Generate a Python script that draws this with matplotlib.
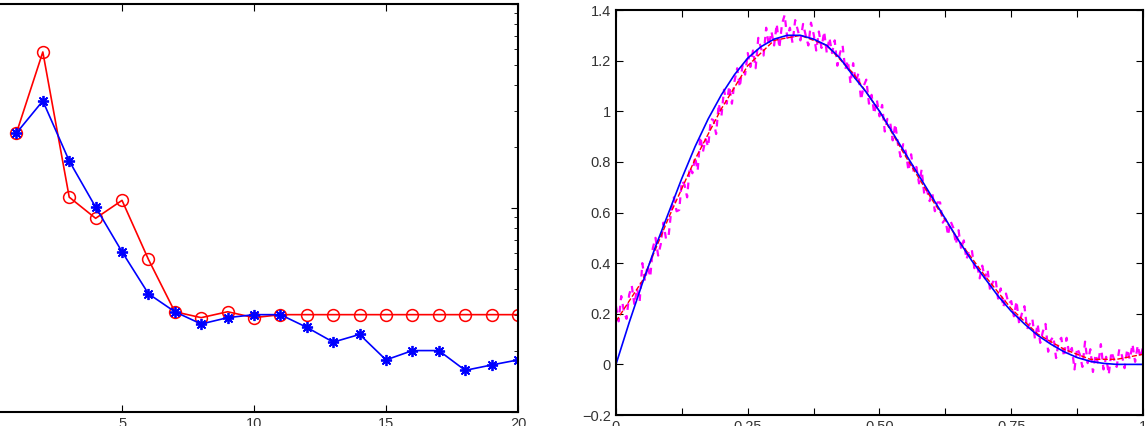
import matplotlib.pyplot as plt
import numpy as np

plt.rcParams['font.family'] = ['Liberation Sans', 'DejaVu Sans']

# left panel: error per iteration (log scale)
iters = list(range(1, 21))
err_red = [0.233, 0.582, 0.113, 0.089, 0.109, 0.056, 0.031, 0.029, 0.031, 0.029,
           0.030, 0.030, 0.030, 0.030, 0.030, 0.030, 0.030, 0.030, 0.030, 0.030]
err_blue = [0.233, 0.335, 0.170, 0.101, 0.061, 0.038, 0.031, 0.027, 0.029, 0.030,
            0.030, 0.026, 0.022, 0.024, 0.018, 0.020, 0.020, 0.016, 0.017, 0.018]

# right panel: true curve
x_true = [i / 40 for i in range(41)]
y_true = [0.00, 0.165, 0.32, 0.465, 0.60, 0.735, 0.86, 0.97, 1.065, 1.145,
          1.21, 1.255, 1.285, 1.30, 1.30, 1.285, 1.26, 1.21, 1.14, 1.075,
          1.00, 0.915, 0.83, 0.745, 0.66, 0.575, 0.49, 0.41, 0.34, 0.27,
          0.21, 0.16, 0.115, 0.08, 0.05, 0.027, 0.012, 0.004, 0.0, 0.0,
          0.0]

# fitted curve
x_fit = [i / 20 for i in range(21)]
y_fit = [0.17, 0.33, 0.58, 0.81, 1.01, 1.18, 1.28, 1.30, 1.26, 1.15, 1.00,
         0.82, 0.65, 0.49, 0.35, 0.22, 0.12, 0.06, 0.02, 0.02, 0.04]

# noisy samples
x_noisy = [i / 200 for i in range(201)]
y_noisy = [0.23, 0.17, 0.27, 0.21, 0.18, 0.275, 0.31, 0.235, 0.30, 0.25,
           0.40, 0.33, 0.39, 0.345, 0.46, 0.50, 0.43, 0.475, 0.56, 0.495,
           0.51, 0.61, 0.66, 0.605, 0.61, 0.725, 0.71, 0.66, 0.78, 0.755,
           0.82, 0.765, 0.90, 0.84, 0.89, 0.86, 0.97, 0.965, 0.91, 1.03,
           0.98, 1.085, 1.03, 1.10, 1.03, 1.12, 1.17, 1.095, 1.18, 1.145,
           1.23, 1.175, 1.24, 1.17, 1.29, 1.25, 1.22, 1.33, 1.26, 1.315,
           1.26, 1.345, 1.25, 1.345, 1.38, 1.29, 1.33, 1.27, 1.36, 1.32,
           1.28, 1.345, 1.30, 1.26, 1.35, 1.305, 1.24, 1.315, 1.25, 1.315,
           1.23, 1.29, 1.23, 1.28, 1.18, 1.23, 1.26, 1.165, 1.20, 1.11,
           1.19, 1.115, 1.15, 1.045, 1.10, 1.125, 1.03, 1.065, 0.99, 1.045,
           0.98, 1.025, 0.92, 0.97, 0.96, 0.885, 0.95, 0.87, 0.82, 0.87,
           0.84, 0.765, 0.83, 0.76, 0.78, 0.715, 0.77, 0.67, 0.69, 0.645,
           0.68, 0.605, 0.64, 0.64, 0.56, 0.575, 0.51, 0.565, 0.54, 0.475,
           0.53, 0.455, 0.49, 0.415, 0.45, 0.455, 0.38, 0.395, 0.34, 0.39,
           0.34, 0.375, 0.29, 0.325, 0.34, 0.26, 0.30, 0.225, 0.28, 0.24,
           0.25, 0.19, 0.25, 0.16, 0.20, 0.23, 0.14, 0.16, 0.18, 0.10,
           0.16, 0.085, 0.13, 0.16, 0.05, 0.095, 0.11, 0.025, 0.09, 0.105,
           0.03, 0.105, 0.04, 0.065, -0.02, 0.065, 0.04, -0.01, 0.09, 0.005,
           0.06, -0.03, 0.04, 0.00, 0.08, -0.02, 0.03, -0.04, 0.05, 0.02,
           -0.01, 0.06, 0.035, -0.015, 0.06, 0.02, 0.08, 0.01, 0.075, 0.025,
           0.07]

fig = plt.figure(figsize=(11.46, 4.26), dpi=100)

ax1 = fig.add_axes([-0.0087, 0.0329, 0.4607, 0.9577])
ax1.plot(iters, err_red, color="red", marker="o", markersize=8.5,
         markerfacecolor="none", markeredgewidth=1.1, linewidth=1.2)
ax1.plot(iters, err_blue, color="blue", marker=(8, 2, 0), markersize=8,
         markeredgewidth=1.3, linewidth=1.2)
ax1.set_yscale("log")
ax1.set_xlim(0, 20)
ax1.set_ylim(1e-2, 1)
ax1.set_xticks([5, 10, 15, 20])
ax1.set_xticklabels(["5", "10", "15", "20"])

ax2 = fig.add_axes([0.5375, 0.0258, 0.4599, 0.9507])
ax2.plot(x_noisy, y_noisy, color="magenta", linestyle=(0, (3, 2.5)), linewidth=1.6)
ax2.plot(x_fit, y_fit, color="red", linestyle="--", linewidth=1.0)
ax2.plot(x_true, y_true, color="blue", linewidth=1.2)
ax2.set_xlim(0, 1)
ax2.set_ylim(-0.2, 1.4)
ax2.set_xticks(np.arange(0, 1.001, 0.125))
ax2.set_xticklabels(["0", "", "0.25", "", "0.50", "", "0.75", "", "1"])
ax2.set_yticks(np.arange(-0.2, 1.401, 0.2))
ax2.set_yticklabels(["\u22120.2", "0", "0.2", "0.4", "0.6", "0.8", "1", "1.2", "1.4"])

for ax in (ax1, ax2):
    ax.tick_params(which="both", direction="in", top=True, right=True,
                   labelsize=10.5, colors="black", labelcolor="#333333")
    ax.tick_params(which="major", length=5)
    ax.tick_params(which="minor", length=3)
    for s in ax.spines.values():
        s.set_linewidth(1.5)

fig.savefig("out.png", dpi=100)
